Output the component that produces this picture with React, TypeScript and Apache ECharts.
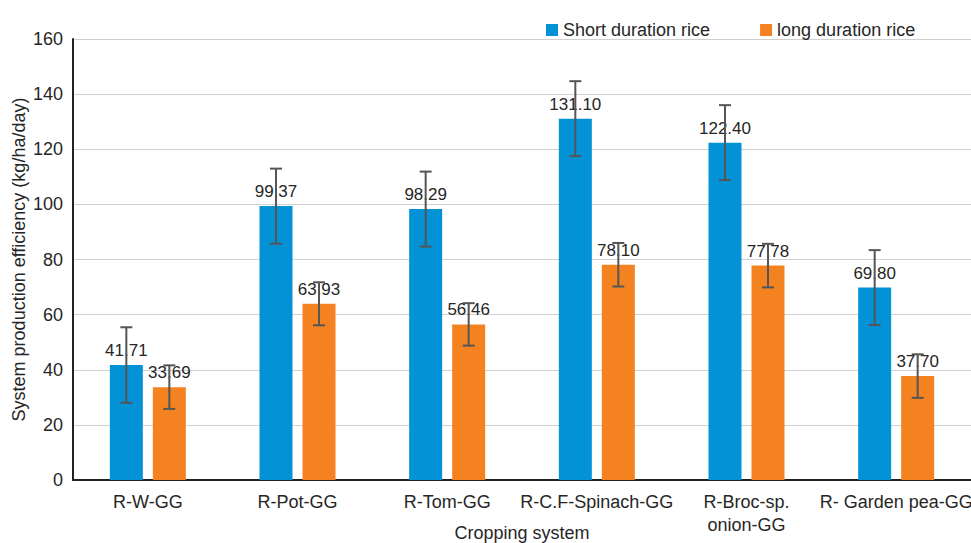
import React, { useEffect, useRef } from "react";
import * as echarts from "echarts";

const categories = ["R-W-GG", "R-Pot-GG", "R-Tom-GG", "R-C.F-Spinach-GG", "R-Broc-sp.\nonion-GG", "R- Garden pea-GG"];
const shortRice = [41.71, 99.37, 98.29, 131.1, 122.4, 69.8];
const longRice = [33.69, 63.93, 56.46, 78.1, 77.78, 37.7];
const shortErr = [13.7, 13.6, 13.6, 13.6, 13.6, 13.6];
const longErr = [7.9, 7.8, 7.7, 7.9, 7.9, 7.9];
const yTicks = { min: 0, max: 160, interval: 20 };

const BLUE = "#0492d6";
const ORANGE = "#f58220";
const FONT = "'Liberation Sans', Arial, sans-serif";
const TEXT = "#262626";
const BAR_W = 33;
const BAR_GAP = 10;

function errorSeries(values: number[], errs: number[], side: number) {
  return {
    type: "custom",
    z: 20,
    silent: true,
    data: values.map((v, i) => [i, v - errs[i], v + errs[i]]),
    renderItem: (params: any, api: any) => {
      const idx = api.value(0);
      const lo = api.coord([idx, api.value(1)]);
      const hi = api.coord([idx, api.value(2)]);
      const off = side * (BAR_W + BAR_GAP) / 2;
      const x = lo[0] + off;
      const cap = 6;
      const style = { stroke: "#555555", lineWidth: 2 };
      return {
        type: "group",
        children: [
          { type: "line", shape: { x1: x, y1: hi[1], x2: x, y2: lo[1] }, style },
          { type: "line", shape: { x1: x - cap, y1: hi[1], x2: x + cap, y2: hi[1] }, style },
          { type: "line", shape: { x1: x - cap, y1: lo[1], x2: x + cap, y2: lo[1] }, style },
        ],
      };
    },
  };
}

export default function App() {
  const ref = useRef<HTMLDivElement>(null);
  useEffect(() => {
    if (!ref.current) return;
    const chart = echarts.init(ref.current, null, { renderer: "svg" });
    const labelCfg = {
      show: true,
      position: "top",
      distance: 6,
      fontSize: 17,
      fontFamily: FONT,
      color: TEXT,
      formatter: (p: any) => Number(p.value).toFixed(2),
    };
    chart.setOption({
      animation: false,
      backgroundColor: "#ffffff",
      textStyle: { fontFamily: FONT },
      legend: {
        left: 541,
        top: 16,
        icon: "rect",
        itemWidth: 12,
        itemHeight: 12,
        itemGap: 50,
        textStyle: { fontSize: 18, color: TEXT, fontFamily: FONT },
        data: ["Short duration rice", "long duration rice"],
      },
      grid: { left: 73, top: 39, right: 0, bottom: 63, containLabel: false, outerBoundsMode: "none" },
      xAxis: {
        type: "category",
        data: categories,
        name: "Cropping system",
        nameLocation: "middle",
        nameGap: 44,
        nameMoveOverlap: false,
        nameTextStyle: { fontSize: 18, color: TEXT, fontFamily: FONT },
        axisLine: { lineStyle: { color: "#222", width: 2 } },
        axisTick: { show: false },
        axisLabel: { fontSize: 18, color: TEXT, fontFamily: FONT, margin: 10, lineHeight: 23, interval: 0 },
      },
      yAxis: {
        type: "value",
        min: yTicks.min,
        max: yTicks.max,
        interval: yTicks.interval,
        name: "System production efficiency (kg/ha/day)",
        nameLocation: "middle",
        nameGap: 45,
        nameMoveOverlap: false,
        nameTextStyle: { fontSize: 18, color: TEXT, fontFamily: FONT },
        axisLine: { show: true, lineStyle: { color: "#222", width: 2 } },
        axisTick: { show: false },
        axisLabel: { fontSize: 18, color: TEXT, fontFamily: FONT, margin: 10 },
        splitLine: { lineStyle: { color: "#d0d0d0", width: 1 } },
      },
      series: [
        {
          name: "Short duration rice",
          type: "bar",
          data: shortRice,
          barWidth: BAR_W,
          barGap: (BAR_GAP / BAR_W) * 100 + "%",
          itemStyle: { color: BLUE },
          label: labelCfg,
        },
        {
          name: "long duration rice",
          type: "bar",
          data: longRice,
          barWidth: BAR_W,
          itemStyle: { color: ORANGE },
          label: labelCfg,
        },
        errorSeries(shortRice, shortErr, -1),
        errorSeries(longRice, longErr, 1),
      ],
    });
    return () => chart.dispose();
  }, []);
  return (
    <div
      ref={ref}
      style={{ position: "fixed", left: 0, top: 0, width: 971, height: 543, background: "#fff" }}
    />
  );
}
